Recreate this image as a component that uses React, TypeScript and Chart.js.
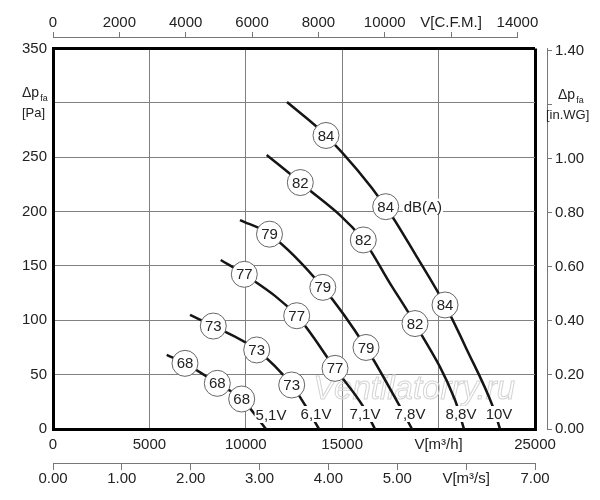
import React, { useEffect, useRef } from 'react';
import { Chart, registerables } from 'chart.js';

Chart.register(...registerables);

const FONT = '"Liberation Sans", Arial, Helvetica, sans-serif';
const TEXT = '#222222';
const GRID = '#808080';
const AXIS = '#777777';

// ---- data (flow in m³/h, pressure in Pa) ----
const voltageNames = ['5,1V', '6,1V', '7,1V', '7,8V', '8,8V', '10V'];
const noiseDb = [68, 73, 77, 79, 82, 84];

const flow51 = [5897, 6846, 8522, 9787, 11048];
const press51 = [68.1, 60.4, 42.0, 27.6, 0];
const circles51 = [1, 2, 3];

const flow61 = [7106, 8314, 10565, 12381, 13070, 13797];
const press61 = [104.9, 94.7, 72.7, 40.5, 22.1, 0];
const circles61 = [1, 2, 3];

const flow71 = [8698, 9922, 12640, 14627, 16094, 16701];
const press71 = [155.5, 142.3, 104.2, 55.8, 20.5, 0];
const circles71 = [1, 2, 3];

const flow78 = [9699, 11229, 13994, 16234, 17998, 18620];
const press78 = [192.2, 179.2, 130.3, 75.0, 20.5, 0];
const circles78 = [1, 2, 3];

const flow88 = [11084, 12827, 16094, 17479, 18776, 20851, 21317];
const press88 = [252.0, 226.7, 173.9, 134.0, 97.0, 26.7, 0];
const circles88 = [1, 2, 4];

const flow10 = [12137, 14160, 17256, 18864, 20332, 21473, 22821, 23185];
const press10 = [300.8, 270.0, 204.5, 158.5, 114.1, 72.7, 20.2, 0];
const circles10 = [1, 2, 4];
const dbaUnitIndex = 2; // point on the 10V curve carrying the "dB(A)" unit

const voltLabelFlow = [11308, 13642, 16184, 18518, 21163, 23134];
const voltLabelPress = [12.9, 13.8, 13.8, 13.8, 13.8, 13.8];

// ---- axes ----
const pressTicks = [0, 50, 100, 150, 200, 250, 300, 350];
const flowTicks = [0, 5000, 10000, 15000, 20000, 25000];
const cfmTicks = [0, 2000, 4000, 6000, 8000, 10000, 12000, 14000];
const wgTicks = [0, 0.2, 0.4, 0.6, 0.8, 1.0, 1.2, 1.4];
const m3sTicks = [0, 1, 2, 3, 4, 5, 6, 7];

const curves = [
  { flow: flow51, press: press51, circles: circles51 },
  { flow: flow61, press: press61, circles: circles61 },
  { flow: flow71, press: press71, circles: circles71 },
  { flow: flow78, press: press78, circles: circles78 },
  { flow: flow88, press: press88, circles: circles88 },
  { flow: flow10, press: press10, circles: circles10 },
];

const tickFont = { family: FONT, size: 15 };

const setTicks = (vals: number[]) => (s: any) => {
  s.ticks = vals.map((v) => ({ value: v }));
};

const annotate = {
  id: 'annotate',
  beforeDatasetsDraw(chart: any) {
    const { ctx } = chart;
    const x = chart.scales.x;
    const y = chart.scales.y;
    ctx.save();
    ctx.font = `italic 33px ${FONT}`;
    ctx.strokeStyle = '#d4d4d4';
    ctx.lineWidth = 1;
    ctx.textAlign = 'left';
    ctx.textBaseline = 'alphabetic';
    ctx.strokeText('Ventilatorry.ru', x.getPixelForValue(13500), y.getPixelForValue(28));
    ctx.restore();
  },
  afterDatasetsDraw(chart: any) {
    const { ctx } = chart;
    const x = chart.scales.x;
    const y = chart.scales.y;
    ctx.save();
    ctx.font = `15px ${FONT}`;
    ctx.textAlign = 'center';
    ctx.textBaseline = 'middle';
    curves.forEach((c, i) => {
      // voltage label with white background
      const lx = x.getPixelForValue(voltLabelFlow[i]);
      const ly = y.getPixelForValue(voltLabelPress[i]);
      const w = ctx.measureText(voltageNames[i]).width;
      ctx.fillStyle = '#ffffff';
      ctx.fillRect(lx - w / 2 - 1, ly - 8, w + 2, 16);
      ctx.fillStyle = TEXT;
      ctx.fillText(voltageNames[i], lx, ly + 0.5);
      // dB circles
      c.circles.forEach((idx) => {
        const cx = x.getPixelForValue(c.flow[idx]);
        const cy = y.getPixelForValue(c.press[idx]);
        ctx.beginPath();
        ctx.arc(cx, cy, 13, 0, Math.PI * 2);
        ctx.fillStyle = '#ffffff';
        ctx.fill();
        ctx.lineWidth = 1;
        ctx.strokeStyle = '#666666';
        ctx.stroke();
        ctx.fillStyle = TEXT;
        ctx.fillText(String(noiseDb[i]), cx, cy + 1);
      });
    });
    // dB(A) unit
    const ux = x.getPixelForValue(flow10[dbaUnitIndex]) + 18;
    const uy = y.getPixelForValue(press10[dbaUnitIndex]);
    ctx.textAlign = 'left';
    const uw = ctx.measureText('dB(A)').width;
    ctx.fillStyle = '#ffffff';
    ctx.fillRect(ux - 1, uy - 8, uw + 2, 16);
    ctx.fillStyle = TEXT;
    ctx.fillText('dB(A)', ux, uy + 1);
    ctx.restore();
  },
  afterDraw(chart: any) {
    const { ctx, chartArea } = chart;
    const y = chart.scales.y;
    const yin = chart.scales.yin;
    const cfm = chart.scales.xcfm;
    ctx.save();
    // CFM axis line (ends at the last tick)
    ctx.strokeStyle = AXIS;
    ctx.lineWidth = 1;
    ctx.beginPath();
    const by = Math.round(cfm.bottom) - 0.5;
    ctx.moveTo(cfm.getPixelForValue(0), by);
    ctx.lineTo(cfm.getPixelForValue(14000) + 0.5, by);
    ctx.stroke();

    ctx.fillStyle = TEXT;
    ctx.textAlign = 'left';
    ctx.textBaseline = 'alphabetic';
    const drawTitle = (x0: number, x1: number, py: number, unit: string) => {
      ctx.font = `14px ${FONT}`;
      ctx.fillText('Δp', x0, py - 6);
      const w = ctx.measureText('Δp').width;
      ctx.font = `9px ${FONT}`;
      ctx.fillText('fa', x0 + w + 1, py - 2);
      ctx.font = `13px ${FONT}`;
      ctx.fillText(unit, x1, py + 14);
    };
    drawTitle(chartArea.left - 31, chartArea.left - 31, y.getPixelForValue(300), '[Pa]');
    drawTitle(yin.left + 11, yin.left - 1, yin.getPixelForValue(1.2), '[in.WG]');
    ctx.restore();
  },
};

const frameColor = (lo: number, hi: number) => (c: any) =>
  c.tick && (c.tick.value === lo || c.tick.value === hi) ? '#000000' : GRID;
const frameWidth = (lo: number, hi: number) => (c: any) =>
  c.tick && (c.tick.value === lo || c.tick.value === hi) ? 3 : 1;

export default function App() {
  const ref = useRef<HTMLCanvasElement | null>(null);

  useEffect(() => {
    if (!ref.current) return;
    Chart.defaults.font.family = FONT;
    const chart = new Chart(ref.current, {
      type: 'line',
      data: {
        datasets: curves.map((c, i) => ({
          label: voltageNames[i],
          data: c.flow.map((f, k) => ({ x: f, y: c.press[k] })),
          borderColor: '#151515',
          borderWidth: 2.5,
          pointRadius: 0,
          fill: false,
          cubicInterpolationMode: 'monotone' as const,
          xAxisID: 'x',
          yAxisID: 'y',
        })),
      },
      options: {
        responsive: false,
        animation: false,
        layout: { padding: 0 },
        plugins: {
          legend: { display: false },
          tooltip: { enabled: false },
        },
        scales: {
          x: {
            type: 'linear',
            axis: 'x',
            position: 'bottom',
            weight: 1,
            min: 0,
            max: 25000,
            afterBuildTicks: setTicks(flowTicks),
            afterFit: (s: any) => { s.height = 25; },
            ticks: {
              font: tickFont, color: TEXT, padding: 7, autoSkip: false, maxRotation: 0,
              callback: (v: any) => (v === 20000 ? 'V[m³/h]' : String(v)),
            },
            grid: { drawTicks: false, color: frameColor(0, 25000), lineWidth: frameWidth(0, 25000) },
            border: { display: true, color: '#000000', width: 3 },
          },
          xs: {
            type: 'linear',
            axis: 'x',
            position: 'bottom',
            weight: 2,
            min: 0,
            max: 1,
            display: true,
            afterFit: (s: any) => { s.height = 9; },
            ticks: { display: false },
            grid: { display: false, drawOnChartArea: false, drawTicks: false },
            border: { display: false },
          },
          xq: {
            type: 'linear',
            axis: 'x',
            position: 'bottom',
            weight: 3,
            min: 0,
            max: 7,
            afterBuildTicks: setTicks(m3sTicks),
            afterFit: (s: any) => { s.height = 37; },
            ticks: {
              font: tickFont, color: TEXT, padding: 0, autoSkip: false, maxRotation: 0,
              callback: (v: any) => (v === 6 ? 'V[m³/s]' : Number(v).toFixed(2)),
            },
            grid: { drawOnChartArea: false, drawTicks: true, tickLength: 7, color: AXIS, lineWidth: 1 },
            border: { display: true, color: AXIS, width: 1 },
          },
          xt: {
            type: 'linear',
            axis: 'x',
            position: 'top',
            weight: 1,
            min: 0,
            max: 1,
            display: true,
            afterFit: (s: any) => { s.height = 10.5; },
            ticks: { display: false },
            grid: { display: false, drawOnChartArea: false, drawTicks: false },
            border: { display: false },
          },
          xcfm: {
            type: 'linear',
            axis: 'x',
            position: 'top',
            weight: 2,
            min: 0,
            max: 14530,
            afterBuildTicks: setTicks(cfmTicks),
            afterFit: (s: any) => { s.height = 38; },
            ticks: {
              font: tickFont, color: TEXT, padding: 0, autoSkip: false, maxRotation: 0,
              callback: (v: any) => (v === 12000 ? 'V[C.F.M.]' : String(v)),
            },
            grid: { drawOnChartArea: false, drawTicks: true, tickLength: 6, color: AXIS, lineWidth: 1 },
            border: { display: false },
          },
          y: {
            type: 'linear',
            axis: 'y',
            position: 'left',
            weight: 1,
            min: 0,
            max: 350,
            afterBuildTicks: setTicks(pressTicks),
            afterFit: (s: any) => { s.width = 53; },
            ticks: {
              font: tickFont, color: TEXT, padding: 6, autoSkip: false,
              callback: (v: any) => (v === 300 ? '' : String(v)),
            },
            grid: { drawTicks: false, color: frameColor(0, 350), lineWidth: frameWidth(0, 350) },
            border: { display: true, color: '#000000', width: 3 },
          },
          yr: {
            type: 'linear',
            axis: 'y',
            position: 'right',
            weight: 1,
            min: 0,
            max: 1,
            display: true,
            afterFit: (s: any) => { s.width = 12; },
            ticks: { display: false },
            grid: { display: false, drawOnChartArea: false, drawTicks: false },
            border: { display: false },
          },
          yin: {
            type: 'linear',
            axis: 'y',
            position: 'right',
            weight: 2,
            min: 0,
            max: 1.409,
            afterBuildTicks: setTicks(wgTicks),
            afterFit: (s: any) => { s.width = 53; },
            ticks: {
              font: tickFont, color: TEXT, padding: 3, autoSkip: false,
              callback: (v: any) => (Math.abs(v - 1.2) < 1e-6 ? '' : Number(v).toFixed(2)),
            },
            grid: { drawOnChartArea: false, drawTicks: true, tickLength: 5, color: AXIS, lineWidth: 1 },
            border: { display: true, color: AXIS, width: 1 },
          },
        },
      } as any,
      plugins: [annotate],
    });
    return () => chart.destroy();
  }, []);

  return (
    <div style={{ position: 'absolute', left: 0, top: 0, width: 600, height: 500, background: '#ffffff' }}>
      <canvas ref={ref} width={600} height={500} style={{ display: 'block', width: 600, height: 500 }} />
    </div>
  );
}
